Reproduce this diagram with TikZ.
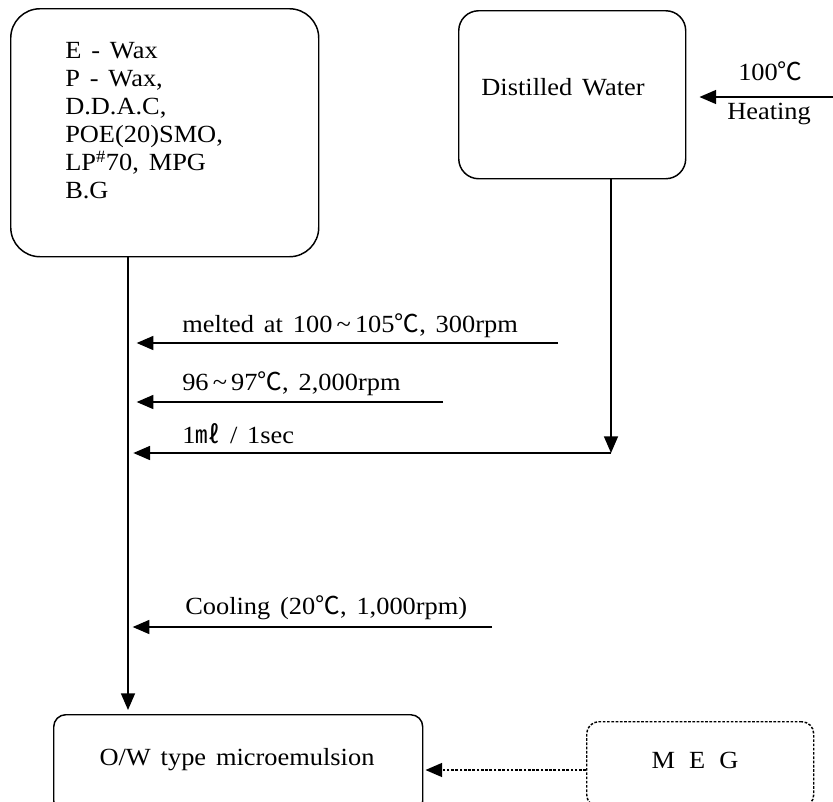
\documentclass[tikz,border=0pt]{standalone}
\usepackage{fontspec}
\setmainfont[FakeStretch=1.07, WordSpace=1.5]{Liberation Serif}
\newfontfamily\cjk{Noto Sans CJK KR}
\usetikzlibrary{arrows.meta}
\newcommand{\degC}{{\cjk ℃}}
\newcommand{\mlunit}{{\cjk ㎖}}
\newcommand{\tld}{\char"007E\relax}
\begin{document}
\begin{tikzpicture}[x=0.75pt,y=-0.75pt,
  font=\fontsize{18.5}{21}\selectfont,
  box/.style={draw, line width=1.1pt, inner sep=0pt, anchor=north west},
  txt/.style={inner sep=0pt},
  arr/.style={-{Triangle[length=12.5pt,width=10.5pt]}, line width=1.1pt},
  lbl/.style={anchor=base west, inner sep=0pt}]
\useasboundingbox (0,0) rectangle (833,801);
\clip (0,0) rectangle (833,801);
% boxes
\node[box, rounded corners=22pt, minimum width=231pt, minimum height=186pt] (ing) at (10,8) {};
\node[anchor=north west, align=left, inner sep=0pt] (ingtext) at (65,42)
  {E - Wax\\P - Wax,\\D.D.A.C,\\POE(20)SMO,\\LP\textsuperscript{\#}70, MPG\\B.G};
\node[box, rounded corners=15pt, minimum width=170.25pt, minimum height=126pt] (water) at (458,10) {};
\node[txt] (watertext) at (563,87) {Distilled Water};
\node[box, rounded corners=9pt, minimum width=276.75pt, minimum height=73.5pt] (ow) at (53,714) {};
\node[txt] (owtext) at (237,760) {O/W type microemulsion};
\node[box, rounded corners=9pt, dash pattern=on 2pt off 1.2pt, minimum width=170.25pt, minimum height=63.75pt] (meg) at (586,721) {};
\node[txt] (megtext) at (695,760) {M\, E\, G};
% heating
\coordinate (hs) at (833,97);
\draw[arr, shorten >=9.75pt] (hs) -- (hs -| water.east);
\node[lbl] (t100) at (738,80) {100\degC};
\node[lbl] (heat) at (727,119) {Heating};
% main line
\coordinate (mtop) at (128,256);
\draw[arr, shorten >=3pt] (mtop) -- (mtop |- ow.north);
% side arrows
\coordinate (r1) at (558,343);
\coordinate (m1) at (128,343);
\draw[arr, shorten >=6.5pt] (r1) -- (m1);
\node[lbl] (l1) at (182,332) {melted at 100\,\tld\,105\degC, 300rpm};
\coordinate (r2) at (443,402);
\coordinate (m2) at (128,402);
\draw[arr, shorten >=6.5pt] (r2) -- (m2);
\node[lbl] (l2) at (182,390) {96\,\tld\,97\degC, 2,000rpm};
\coordinate (wd) at (611,453);
\coordinate (m3) at (128,453);
\draw[arr] (water.south -| wd) -- (wd);
\draw[arr, shorten >=4pt] (wd) -- (m3);
\node[lbl] (l3) at (182,443) {1\mlunit\ / 1sec};
\coordinate (r4) at (492,627);
\coordinate (m4) at (128,627);
\draw[arr, shorten >=3.5pt] (r4) -- (m4);
\node[lbl] (l4) at (185,614) {Cooling (20\degC, 1,000rpm)};
% dotted arrow
\coordinate (mg) at (586,770);
\draw[arr, dash pattern=on 2pt off 1.2pt, shorten >=1.5pt] (mg) -- (mg -| ow.east);
\end{tikzpicture}
\end{document}
